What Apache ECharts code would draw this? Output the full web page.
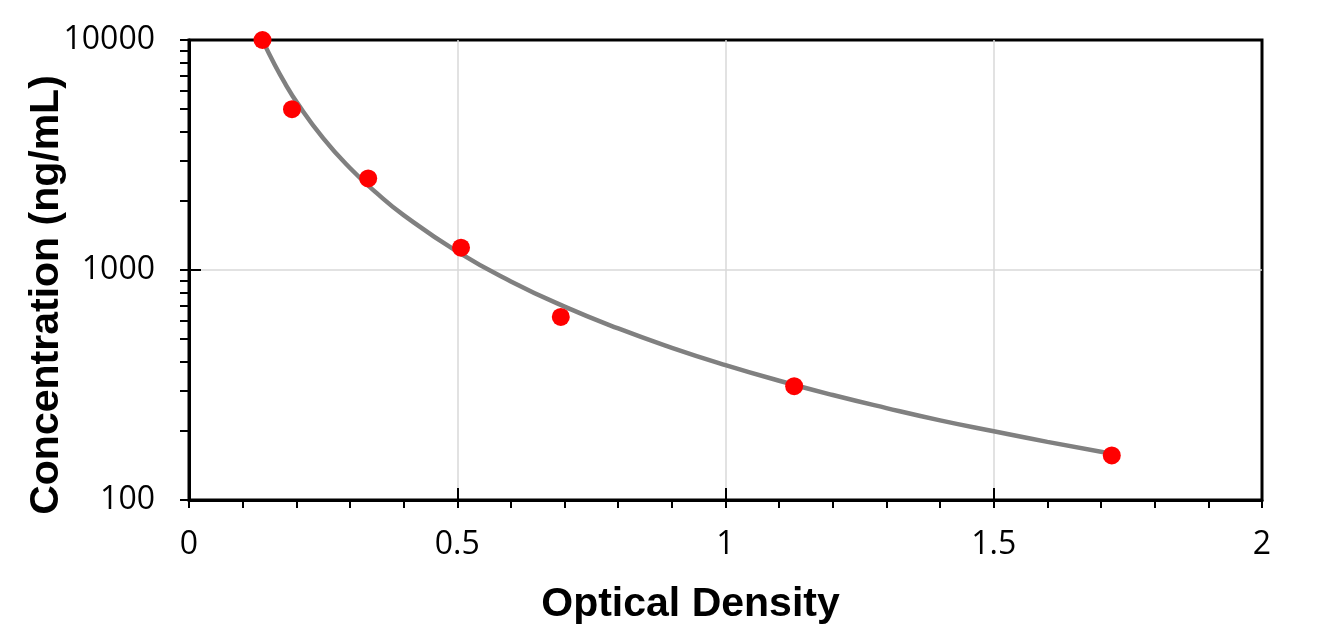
<!DOCTYPE html>
<html>
<head>
<meta charset="utf-8">
<script src="https://cdn.jsdelivr.net/npm/echarts@6/dist/echarts.min.js"></script>
<style>html,body{margin:0;padding:0;background:#fff}#c{width:1328px;height:640px}</style>
</head>
<body>
<div id="c"></div>
<script>
// Standard points (OD, concentration)
const odValues = [0.137, 0.192, 0.334, 0.507, 0.693, 1.128, 1.720];
const concValues = [10000, 5000, 2500, 1250, 625, 312.5, 156.25];
// Trend line
const curveOD = [0.138, 0.16, 0.18, 0.2, 0.25, 0.3, 0.35, 0.4, 0.5, 0.6, 0.7, 0.8, 0.9, 1.0, 1.1, 1.2, 1.3, 1.4, 1.5, 1.6, 1.72];
const curveConc = [9860, 7785, 6417, 5397, 3744, 2776, 2158, 1733, 1202, 892, 693, 557, 459, 386, 330, 286, 251, 222, 199, 179, 159];
// Axis ticks
const xTicks = [0, 0.5, 1, 1.5, 2];
const yTicks = [100, 1000, 10000];
const yMinorTicks = [200, 300, 400, 500, 600, 700, 800, 900, 2000, 3000, 4000, 5000, 6000, 7000, 8000, 9000];

const chart = echarts.init(document.getElementById('c'));
const labelFont = { fontFamily: 'Open Sans', fontSize: 32, color: '#000' };
const titleFont = { fontFamily: 'Liberation Sans', fontWeight: 'bold', fontSize: 41, color: '#000' };

chart.setOption({
  animation: false,
  backgroundColor: '#fff',
  grid: { left: 189, right: 66, top: 40, bottom: 140, show: true, borderColor: '#000', borderWidth: 3, backgroundColor: 'transparent' },
  xAxis: [
    {
      type: 'value', position: 'bottom', min: xTicks[0], max: xTicks[xTicks.length - 1], interval: 0.5,
      name: 'Optical Density', nameLocation: 'middle', nameGap: 84, nameMoveOverlap: false,
      nameTextStyle: Object.assign({ padding: [0, 70, 0, 0] }, titleFont),
      axisLine: { show: true, lineStyle: { color: '#000', width: 3 } },
      axisTick: { show: true, inside: false, length: 8, lineStyle: { color: '#000', width: 2 } },
      minorTick: { show: true, splitNumber: 5, length: 8, lineStyle: { color: '#000', width: 2 } },
      splitLine: { show: true, showMinLine: false, showMaxLine: false, lineStyle: { color: '#d9d9d9', width: 1.5 } },
      axisLabel: Object.assign({ margin: 29, formatter: v => String(v) }, labelFont)
    },
    {
      type: 'value', position: 'bottom', min: xTicks[0], max: xTicks[xTicks.length - 1], interval: 0.5,
      axisLine: { show: false },
      axisTick: { show: true, inside: true, length: 12, lineStyle: { color: '#000', width: 2 } },
      splitLine: { show: false }, axisLabel: { show: false }
    }
  ],
  yAxis: [
    {
      type: 'log', logBase: 10, min: yTicks[0], max: yTicks[yTicks.length - 1], position: 'left',
      name: 'Concentration (ng/mL)', nameLocation: 'middle', nameGap: 122, nameRotate: 90, nameMoveOverlap: false,
      nameTextStyle: Object.assign({ padding: [0, 50, 0, 0] }, titleFont),
      axisLine: { show: true, lineStyle: { color: '#000', width: 3 } },
      axisTick: { show: true, inside: false, length: 9, lineStyle: { color: '#000', width: 2 } },
      splitLine: { show: true, showMinLine: false, showMaxLine: false, lineStyle: { color: '#d9d9d9', width: 1.5 } },
      axisLabel: Object.assign({ margin: 34, formatter: v => String(v) }, labelFont)
    },
    {
      type: 'log', logBase: 10, min: yTicks[0], max: yTicks[yTicks.length - 1], position: 'left',
      axisLine: { show: false },
      axisTick: { show: true, inside: true, length: 12, lineStyle: { color: '#000', width: 2 } },
      splitLine: { show: false }, axisLabel: { show: false }
    },
    {
      type: 'value', min: Math.log10(yTicks[0]), max: Math.log10(yTicks[yTicks.length - 1]), position: 'left',
      axisLine: { show: false },
      axisTick: { show: true, inside: false, length: 9, customValues: yMinorTicks.map(v => Math.log10(v)), lineStyle: { color: '#000', width: 2 } },
      splitLine: { show: false }, axisLabel: { show: false }
    }
  ],
  series: [
    {
      type: 'line', xAxisIndex: 0, yAxisIndex: 0, smooth: true, showSymbol: false, z: 3,
      lineStyle: { color: '#808080', width: 4.5 },
      data: curveOD.map((x, i) => [x, curveConc[i]])
    },
    {
      type: 'scatter', xAxisIndex: 0, yAxisIndex: 0, symbol: 'circle', symbolSize: 18, z: 4,
      itemStyle: { color: '#ff0000', opacity: 1 },
      data: odValues.map((x, i) => [x, concValues[i]])
    }
  ]
});
</script>
</body>
</html>
